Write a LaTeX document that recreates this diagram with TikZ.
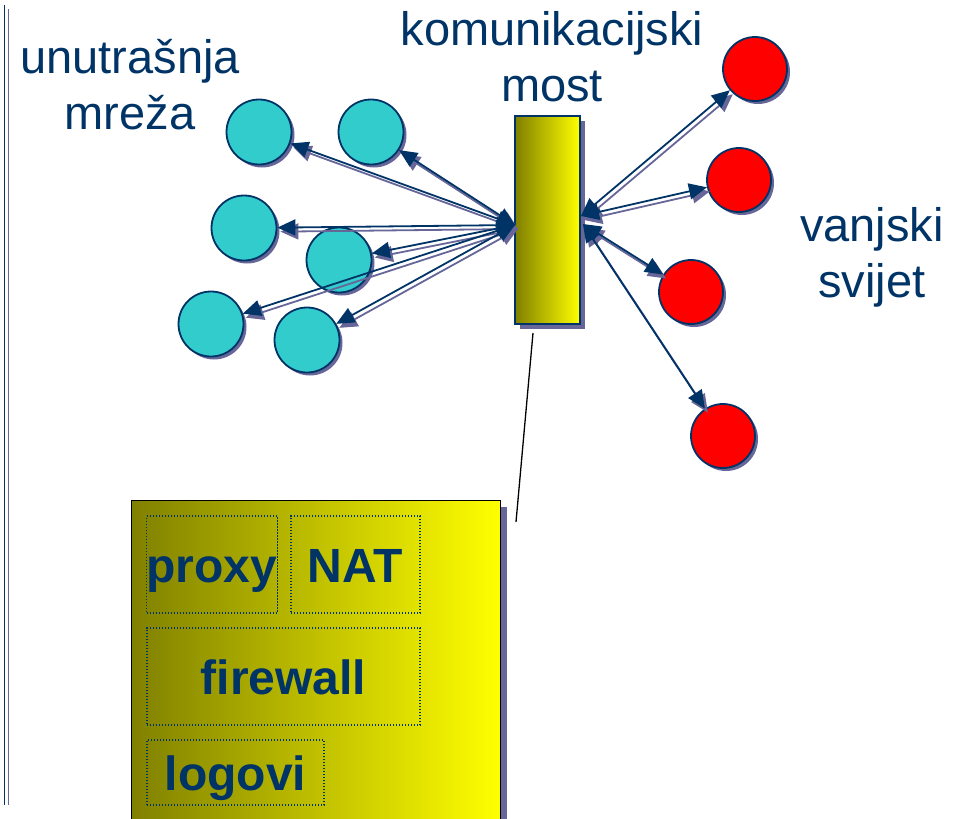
\documentclass[tikz,border=0pt]{standalone}
\usepackage{fontspec}
\setmainfont{Liberation Sans}
\usetikzlibrary{arrows.meta,shadows}
\definecolor{navy}{RGB}{0,51,102}
\definecolor{shadowc}{RGB}{102,102,153}
\definecolor{tealc}{RGB}{51,204,204}
\definecolor{olivec}{RGB}{128,128,0}
\definecolor{midy}{RGB}{212,212,0}
\begin{document}
\begin{tikzpicture}[x=1pt,y=-1pt,
  lbl/.style={text=navy,font=\fontsize{47}{56}\selectfont,align=center,inner sep=0},
  sh/.style={drop shadow={shadow xshift=3pt,shadow yshift=-3pt,fill=shadowc,opacity=1}},
  inn/.style={circle,draw=navy,line width=1.8pt,fill=tealc,minimum size=65pt,inner sep=0,sh},
  outn/.style={circle,draw=navy,line width=1.8pt,fill=red,minimum size=64pt,inner sep=0,sh},
  conn/.style={{Triangle[length=18pt,width=16pt]}-{Triangle[length=18pt,width=16pt]},draw=navy,line width=1.8pt},
  connsh/.style={conn,draw=shadowc,transform canvas={shift={(3pt,-4pt)}}},
  sub/.style={draw=navy,line width=1.4pt,dash pattern=on 1.4pt off 1.6pt,text=navy,font=\fontsize{48}{56}\selectfont\bfseries,text height=35pt,text depth=0pt,inner sep=0}
]
\path[use as bounding box,clip] (0,0) rectangle (961,819);

% left double rule
\draw[navy,line width=1.8pt] (4.5,5) -- (4.5,805);
\draw[shadowc,line width=1.8pt] (8.5,9) -- (8.5,805);

% labels
\node[lbl] (lin) at (130,85) {unutrašnja\\mreža};
\node[lbl] (lbr) at (552,57) {komunikacijski\\most};
\node[lbl] (lout) at (872,257) {vanjski\\svijet};

% bridge
\node[draw=navy,line width=1.4pt,minimum width=65pt,minimum height=208pt,inner sep=0,
  left color=olivec,middle color=midy,right color=yellow,
  drop shadow={shadow xshift=5pt,shadow yshift=-5pt,fill=shadowc,opacity=1}] (bridge) at (547.5,220) {};

% inner network
\node[inn] (c1) at (259,132) {};
\node[inn] (c2) at (371,132) {};
\node[inn] (c3) at (244,228) {};
\node[inn] (c4) at (339,260) {};
\node[inn] (c5) at (211,324) {};
\node[inn] (c6) at (307,340) {};

% outer world
\node[outn] (r1) at (755,69) {};
\node[outn] (r2) at (739,180) {};
\node[outn] (r3) at (691,292) {};
\node[outn] (r4) at (723,436) {};

\coordinate (bl) at (515,225);
\coordinate (br1) at (581,216);
\coordinate (br2) at (583,224);

\foreach \c in {c1,c2,c3,c4,c5,c6}{
  \draw[connsh] (bl) -- (\c);
}
\foreach \c in {c1,c2,c3,c4,c5,c6}{
  \draw[conn] (bl) -- (\c);
}
\foreach \s/\c in {br1/r1,br1/r2,br2/r3,br2/r4}{
  \draw[connsh] (\s) -- (\c);
}
\foreach \s/\c in {br1/r1,br1/r2,br2/r3,br2/r4}{
  \draw[conn] (\s) -- (\c);
}

% zoom box
\node[draw=black,line width=1.2pt,minimum width=369pt,minimum height=340pt,inner sep=0,
  left color=olivec,middle color=midy,right color=yellow,
  drop shadow={shadow xshift=6pt,shadow yshift=-6pt,fill=shadowc,opacity=1},
  anchor=north west] (zb) at (131,500) {};
\coordinate (lt) at (533,333);
\coordinate (lb) at (516,522);
\draw[black,line width=1.3pt] (lt) -- (lb);

\node[sub,minimum width=130pt,minimum height=97pt] (px) at (212,564.5) {proxy};
\node[sub,minimum width=129pt,minimum height=97pt] (nat) at (355.5,564.5) {NAT};
\node[sub,minimum width=273pt,minimum height=97pt] (fw) at (283.5,676.5) {firewall};
\node[sub,minimum width=177pt,minimum height=65pt] (lg) at (235.5,772.5) {logovi};
\end{tikzpicture}
\end{document}
